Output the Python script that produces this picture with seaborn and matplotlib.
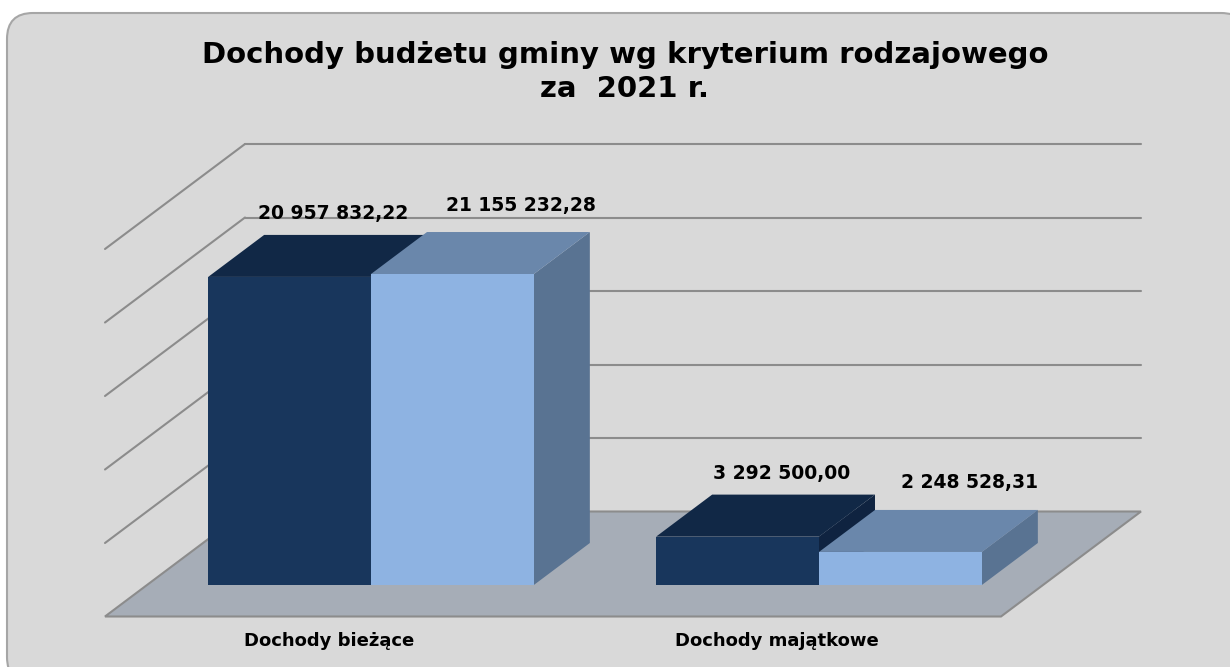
import numpy as np
import pandas as pd
import seaborn as sns
import matplotlib.pyplot as plt
from matplotlib.patches import Polygon, FancyBboxPatch

# data
kategorie = ["Dochody bieżące", "Dochody majątkowe"]
serie = ["Plan", "Wykonanie"]
plan = [20957832.22, 3292500.00]
wykonanie = [21155232.28, 2248528.31]

title = "Dochody budżetu gminy wg kryterium rodzajowego\nza  2021 r."

df = pd.DataFrame({
    "kategoria": kategorie * 2,
    "seria": [serie[0]] * 2 + [serie[1]] * 2,
    "wartosc": plan + wykonanie,
})

# colours (front, top, side) for each series
front_cols = ["#18365C", "#8EB3E2"]
top_cols = ["#112846", "#6A87AB"]
side_cols = ["#0F2340", "#597392"]
bg = "#D9D9D9"
floor_col = "#A6ADB7"
grid_col = "#8C8C8C"

# label offsets (pixels) per series
label_dx = [16, 41]
label_dy = [21, 27]

# scale of the value axis
grid_step = 5_000_000
grid_max = 25_000_000

W, H = 1230, 667
sns.set_theme(style="white")
plt.rcParams["font.family"] = ["DejaVu Sans"]

fig = plt.figure(figsize=(W / 100, H / 100), dpi=100)
fig.patch.set_facecolor("white")

# rounded chart background (runs off the right and bottom edge)
frame = FancyBboxPatch((7, -16), W + 10, H - 13 + 16,
                       boxstyle="round,pad=0,rounding_size=26",
                       transform=None, facecolor=bg, edgecolor="#A6A6A6",
                       linewidth=1.5, zorder=-1)
fig.patches.append(frame)

ax = fig.add_axes([0, 0, 1, 1])
ax.patch.set_alpha(0)

sns.barplot(data=df, x="kategoria", y="wartosc", hue="seria",
            order=kategorie, hue_order=serie, palette=front_cols,
            width=0.727, saturation=1, legend=False, ax=ax)
bars = sorted(ax.patches[:], key=lambda p: p.get_x())

# axis limits: one category = 448 px, 5 mln = 73.5 px
px_x = 448.0
val_per_px = grid_step / 73.5
ax.set_xlim(-371 / px_x, (W - 371) / px_x)
ax.set_ylim(-82 * val_per_px, (H - 82) * val_per_px)
ax.set_axis_off()

# depth direction of the pseudo 3d box (full floor depth)
DX = 140 / px_x
DY = 105 * val_per_px
d_front, d_back = 0.3, 0.7   # bars sit between these depths


def proj(x, v, d):
    return (x + (d - d_front) * DX, v + (d - d_front) * DY)


# floor
floor = Polygon([proj(-0.5, 0, 0), proj(1.5, 0, 0), proj(1.5, 0, 1), proj(-0.5, 0, 1)],
                closed=True, facecolor=floor_col, edgecolor=grid_col, lw=1.5, zorder=1)
ax.add_patch(floor)

# back wall and left wall grid lines
for v in np.arange(grid_step, grid_max + 1, grid_step):
    (x0, y0), (x1, y1) = proj(-0.5, v, 1), proj(1.5, v, 1)
    ax.plot([x0, x1], [y0, y1], color=grid_col, lw=1.5, zorder=0.5)
    (x2, y2) = proj(-0.5, v, 0)
    ax.plot([x2, x0], [y2, y0], color=grid_col, lw=1.5, zorder=0.5)

# 3d tops and sides of the bars
bdx = (d_back - d_front) * DX
bdy = (d_back - d_front) * DY
for j, p in enumerate(bars):
    s = j % 2
    x0, w, h = p.get_x(), p.get_width(), p.get_height()
    z = 2 + j * 0.1
    side = Polygon([(x0 + w, 0), (x0 + w, h), (x0 + w + bdx, h + bdy), (x0 + w + bdx, bdy)],
                   closed=True, facecolor=side_cols[s], edgecolor="none", zorder=z)
    top = Polygon([(x0, h), (x0 + w, h), (x0 + w + bdx, h + bdy), (x0 + bdx, h + bdy)],
                  closed=True, facecolor=top_cols[s], edgecolor="none", zorder=z)
    ax.add_patch(side)
    ax.add_patch(top)
    p.set_zorder(z + 0.05)
    p.set_edgecolor("none")
    txt = f"{h:,.2f}".replace(",", " ").replace(".", ",")
    ax.annotate(txt, xy=(x0 + w / 2 + bdx / 2, h + bdy), xytext=(label_dx[s], label_dy[s]),
                textcoords="offset pixels", ha="center", va="center",
                fontsize=13.5, fontweight="bold", color="black", zorder=10)

# category labels at the front edge of the floor
for i, k in enumerate(kategorie):
    ax.annotate(k, xy=proj(i, 0, 0), xytext=(0, -25), textcoords="offset pixels",
                ha="center", va="center", fontsize=13, fontweight="bold", color="black")

fig.text(625 / W, 1 - 72 / H, title, ha="center", va="center", fontsize=21,
         fontweight="bold", linespacing=1.3, color="black")

fig.savefig("out.png", dpi=100)
